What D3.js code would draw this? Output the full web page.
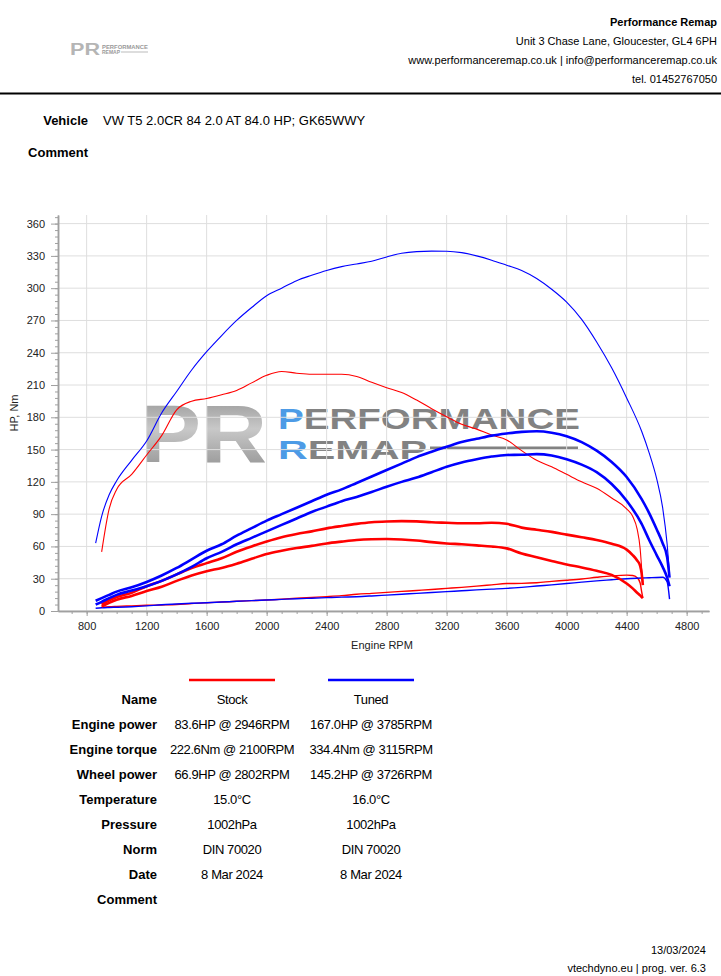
<!DOCTYPE html>
<html>
<head>
<meta charset="utf-8">
<script src="https://cdn.jsdelivr.net/npm/d3@7"></script>
<style>
  body { margin: 0; background: #fff; }
  svg text { font-family: Arial, "Liberation Sans", sans-serif; fill: #000; }
</style>
</head>
<body>
<svg id="page" width="721" height="976"></svg>
<script>
// Stock run (red)
const stockRpm    = [900, 950, 1000, 1100, 1200, 1300, 1400, 1500, 1600, 1700, 1800, 1900, 2000, 2100, 2200, 2300, 2400, 2500, 2600, 2700, 2800, 2900, 3000, 3100, 3200, 3300, 3400, 3500, 3600, 3700, 3800, 3900, 4000, 4100, 4200, 4300, 4400, 4440, 4470, 4490, 4500, 4508];
const stockTorque = [55, 95, 113, 127, 145, 163, 187, 195, 197.5, 201, 205, 212, 219, 222.6, 221, 220, 220, 220, 218, 212.5, 207.5, 203, 196, 188, 180.5, 173.5, 169, 163.5, 159, 149, 140, 134, 127, 120, 114, 105, 95, 88, 76, 58, 40, 27];
const stockPower  = [6, 10, 13, 17, 23, 28, 34, 40, 44.5, 49, 55, 60, 64.5, 68.5, 71.5, 74, 76.8, 79, 81, 82.5, 83.2, 83.5, 83.3, 82.5, 82, 81.5, 81.5, 82, 81, 77.5, 75.5, 73.5, 71, 68.5, 66, 62.5, 57, 52, 47, 42, 35, 24];
const stockWheel  = [4, 7.5, 10.5, 14, 18.5, 22.5, 28, 33, 37, 40, 44, 48.5, 53, 56, 58.5, 60.5, 62.8, 64.5, 66, 66.7, 66.9, 66.5, 65.5, 64, 62.8, 62, 61, 60, 58.2, 53.5, 50, 46.5, 43.2, 40.5, 37.4, 33.6, 25.5, 21, 17, 14.5, 13, 12];
const stockLoss   = [3.5, 4, 4.3, 4.8, 5.3, 5.6, 6, 7, 7.7, 8.3, 9, 9.6, 10.2, 11, 11.8, 12.6, 13.4, 14.3, 15.5, 16.4, 17.3, 18.2, 19.1, 20, 21, 22, 23.1, 24.3, 25.5, 25.7, 26.3, 27.5, 28.6, 29.8, 31.3, 32.6, 33.3, 33, 31, 26, 18, 12];

// Tuned run (blue)
const tunedRpm    = [860, 900, 950, 1000, 1100, 1200, 1300, 1400, 1500, 1600, 1700, 1800, 1900, 2000, 2100, 2200, 2300, 2400, 2500, 2600, 2700, 2800, 2900, 3000, 3100, 3200, 3300, 3400, 3500, 3600, 3700, 3800, 3900, 4000, 4100, 4200, 4300, 4400, 4500, 4550, 4600, 4640, 4670, 4686];
const tunedTorque = [63, 88, 108, 121, 140, 158, 184, 204, 224, 241, 256, 270, 282, 293, 300, 307, 312, 316.5, 320, 322.5, 325, 329, 332.5, 334, 334.4, 334.3, 333, 330, 326, 321.3, 316.5, 309, 299, 287, 271, 250, 226, 198, 167, 147, 123, 96, 62, 35];
const tunedPower  = [9.5, 12, 15, 18, 22, 27, 33, 40, 48, 56, 62, 70, 77, 84, 90, 96, 102, 108, 113, 119, 125, 131, 137, 143, 148, 152.6, 157, 160, 163, 165, 166.5, 167, 165.7, 162.5, 157, 149, 138.5, 124.5, 104, 91, 76, 63, 50, 31];
const tunedWheel  = [6, 8.5, 12, 15, 19, 23, 28, 34, 41, 49, 55, 62, 68, 74, 80, 86, 92, 97, 102, 106, 110.5, 115.5, 120, 124, 129, 134, 138, 141, 143.5, 145, 145.2, 145.8, 144.5, 141, 136, 129, 118, 102.5, 81, 66, 52, 41, 31, 23];
const tunedLoss   = [2.5, 3, 3.3, 3.5, 4, 4.8, 5.8, 6.5, 7.2, 7.7, 8.3, 9, 9.6, 10.2, 10.8, 11.4, 11.9, 12.4, 12.9, 13.3, 14, 14.8, 15.6, 16.4, 17.2, 18, 18.8, 19.6, 20.3, 21, 22, 23.2, 24.3, 25.5, 26.8, 28, 29, 30, 30.6, 30.9, 31.2, 31.3, 27, 11];

// Axis ticks
const xTicks = [800, 1200, 1600, 2000, 2400, 2800, 3200, 3600, 4000, 4400, 4800];
const yTicks = [0, 30, 60, 90, 120, 150, 180, 210, 240, 270, 300, 330, 360];

// Header / table texts
const headerLines = ["Performance Remap", "Unit 3 Chase Lane, Gloucester, GL4 6PH", "www.performanceremap.co.uk | info@performanceremap.co.uk", "tel. 01452767050"];
const vehicleText = "VW T5 2.0CR 84 2.0 AT 84.0 HP; GK65WWY";
const rowNames = ["Name", "Engine power", "Engine torque", "Wheel power", "Temperature", "Pressure", "Norm", "Date", "Comment"];
const stockInfo = ["Stock", "83.6HP @ 2946RPM", "222.6Nm @ 2100RPM", "66.9HP @ 2802RPM", "15.0°C", "1002hPa", "DIN 70020", "8 Mar 2024", ""];
const tunedInfo = ["Tuned", "167.0HP @ 3785RPM", "334.4Nm @ 3115RPM", "145.2HP @ 3726RPM", "16.0°C", "1002hPa", "DIN 70020", "8 Mar 2024", ""];
const footerLines = ["13/03/2024", "vtechdyno.eu | prog. ver. 6.3"];

const RED = "#ff0000", BLUE = "#0000ff";
const svg = d3.select("#page");

// ---- header
svg.selectAll(".hdr")
    .data(headerLines)
    .enter()
    .append("text")
    .attr("x", 717)
    .attr("y", (d, i) => 26 + i * 19)
    .attr("text-anchor", "end")
    .style("font-size", "11px")
    .style("font-weight", (d, i) => i === 0 ? "bold" : "normal")
    .text(d => d);

// small logo in the corner
const logo = svg.append("g").attr("transform", "translate(70,55)");
logo.append("text").attr("x", 0).attr("y", 0).attr("textLength", 30).attr("lengthAdjust", "spacingAndGlyphs")
    .style("font-size", "16px").style("font-weight", "bold").style("fill", "#b5b5b5").text("PR");
logo.append("text").attr("x", 32).attr("y", -6).attr("textLength", 46).attr("lengthAdjust", "spacingAndGlyphs")
    .style("font-size", "6px").style("font-weight", "bold").style("fill", "#9a9a9a").text("PERFORMANCE");
logo.append("text").attr("x", 32).attr("y", -1).attr("textLength", 18).attr("lengthAdjust", "spacingAndGlyphs")
    .style("font-size", "5px").style("font-weight", "bold").style("fill", "#9a9a9a").text("REMAP");
logo.append("line").attr("x1", 51).attr("x2", 78).attr("y1", -3).attr("y2", -3).attr("stroke", "#aaa").attr("stroke-width", 0.8);

svg.append("line")
    .attr("x1", 0).attr("x2", 721).attr("y1", 93.5).attr("y2", 93.5)
    .attr("stroke", "#000").attr("stroke-width", 2);

svg.append("text").attr("x", 88).attr("y", 125).attr("text-anchor", "end")
    .style("font-size", "13px").style("font-weight", "bold").text("Vehicle");
svg.append("text").attr("x", 103).attr("y", 125).style("font-size", "13px").text(vehicleText);
svg.append("text").attr("x", 88).attr("y", 157).attr("text-anchor", "end")
    .style("font-size", "13px").style("font-weight", "bold").text("Comment");

// ---- chart
const x = d3.scaleLinear().domain([609, 4949]).range([58, 709]);
const y = d3.scaleLinear().domain([0, 368]).range([611, 215]);

// watermark
const defs = svg.append("defs");
const grad = defs.append("linearGradient").attr("id", "wm").attr("x1", "0%").attr("y1", "0%").attr("x2", "0%").attr("y2", "100%");
grad.append("stop").attr("offset", "0%").attr("stop-color", "#8c8c8c");
grad.append("stop").attr("offset", "45%").attr("stop-color", "#c8c8c8");
grad.append("stop").attr("offset", "100%").attr("stop-color", "#8a8a8a");

const wm = svg.append("g");
wm.append("text").attr("x", 140).attr("y", 462).attr("textLength", 127).attr("lengthAdjust", "spacingAndGlyphs")
    .style("font-size", "82px").style("font-weight", "bold").style("fill", "url(#wm)").text("PR");
const w1 = wm.append("text").attr("x", 278).attr("y", 429).attr("textLength", 302).attr("lengthAdjust", "spacingAndGlyphs")
    .style("font-size", "29px").style("font-weight", "bold");
w1.append("tspan").style("fill", "#4d9be6").text("P");
w1.append("tspan").style("fill", "#828282").text("ERFORMANCE");
const w2 = wm.append("text").attr("x", 278).attr("y", 459).attr("textLength", 149).attr("lengthAdjust", "spacingAndGlyphs")
    .style("font-size", "26px").style("font-weight", "bold");
w2.append("tspan").style("fill", "#4d9be6").text("R");
w2.append("tspan").style("fill", "#828282").text("EMAP");
wm.append("line").attr("x1", 430).attr("x2", 578).attr("y1", 448).attr("y2", 448)
    .attr("stroke", "#828282").attr("stroke-width", 3);

// grid
svg.append("g").selectAll("line")
    .data(xTicks)
    .enter()
    .append("line")
    .attr("x1", d => x(d)).attr("x2", d => x(d))
    .attr("y1", y(368)).attr("y2", y(0))
    .attr("stroke", "#dedede").attr("stroke-width", 1);
svg.append("g").selectAll("line")
    .data(yTicks)
    .enter()
    .append("line")
    .attr("x1", x(609)).attr("x2", x(4949))
    .attr("y1", d => y(d)).attr("y2", d => y(d))
    .attr("stroke", "#dedede").attr("stroke-width", 1);

// axes: minor ticks, then major ticks with labels
function styleAxis(g) {
    g.select(".domain").attr("stroke", "#a0a0a0").attr("stroke-width", 1.5);
    g.selectAll(".tick line").attr("stroke", "#a0a0a0");
    g.selectAll("text").style("font-size", "11px").style("fill", "#222");
}

svg.append("g").attr("transform", "translate(58,0)")
    .call(d3.axisLeft(y).tickValues(d3.range(0, 367, 6)).tickSize(3).tickFormat("").tickSizeOuter(0))
    .call(styleAxis);
svg.append("g").attr("transform", "translate(58,0)")
    .call(d3.axisLeft(y).tickValues(yTicks).tickSize(7).tickPadding(6).tickSizeOuter(0))
    .call(styleAxis);

svg.append("g").attr("transform", "translate(0,611)")
    .call(d3.axisBottom(x).tickValues(d3.range(700, 4950, 100)).tickSize(3).tickFormat("").tickSizeOuter(0))
    .call(styleAxis);
svg.append("g").attr("transform", "translate(0,611)")
    .call(d3.axisBottom(x).tickValues(xTicks).tickSize(5).tickPadding(6).tickFormat(d3.format("d")).tickSizeOuter(0))
    .call(styleAxis);

svg.append("text").attr("x", 382).attr("y", 649).attr("text-anchor", "middle")
    .style("font-size", "11px").style("fill", "#222").text("Engine RPM");
svg.append("text").attr("transform", "translate(18,413) rotate(-90)").attr("text-anchor", "middle")
    .style("font-size", "11px").style("fill", "#222").text("HP, Nm");

// curves
const line = d3.line()
    .x(d => x(d[0]))
    .y(d => y(d[1]))
    .curve(d3.curveMonotoneX);

function drawCurve(rpm, vals, color, width) {
    svg.append("path")
        .datum(d3.zip(rpm, vals))
        .attr("fill", "none")
        .attr("stroke", color)
        .attr("stroke-width", width)
        .attr("stroke-linejoin", "round")
        .attr("d", line);
}

drawCurve(stockRpm, stockLoss, RED, 1.4);
drawCurve(tunedRpm, tunedLoss, BLUE, 1.4);
drawCurve(stockRpm, stockTorque, RED, 1.1);
drawCurve(tunedRpm, tunedTorque, BLUE, 1.1);
drawCurve(stockRpm, stockWheel, RED, 2.6);
drawCurve(stockRpm, stockPower, RED, 2.6);
drawCurve(tunedRpm, tunedWheel, BLUE, 2.6);
drawCurve(tunedRpm, tunedPower, BLUE, 2.6);

// ---- table
const colX = [232, 371];
[RED, BLUE].forEach((c, i) => {
    svg.append("line")
        .attr("x1", colX[i] - 43).attr("x2", colX[i] + 43)
        .attr("y1", 680).attr("y2", 680)
        .attr("stroke", c).attr("stroke-width", 2.5);
});

svg.selectAll(".rowName")
    .data(rowNames)
    .enter()
    .append("text")
    .attr("x", 157)
    .attr("y", (d, i) => 704 + i * 25)
    .attr("text-anchor", "end")
    .style("font-size", "13px")
    .style("font-weight", "bold")
    .text(d => d);

[stockInfo, tunedInfo].forEach((col, j) => {
    svg.append("g").selectAll("text")
        .data(col)
        .enter()
        .append("text")
        .attr("x", colX[j])
        .attr("y", (d, i) => 704 + i * 25)
        .attr("text-anchor", "middle")
        .style("font-size", "13px")
        .style("letter-spacing", "-0.4px")
        .text(d => d);
});

// footer
svg.selectAll(".ftr")
    .data(footerLines)
    .enter()
    .append("text")
    .attr("x", 706)
    .attr("y", (d, i) => 954 + i * 18)
    .attr("text-anchor", "end")
    .style("font-size", "11px")
    .text(d => d);
</script>
</body>
</html>
